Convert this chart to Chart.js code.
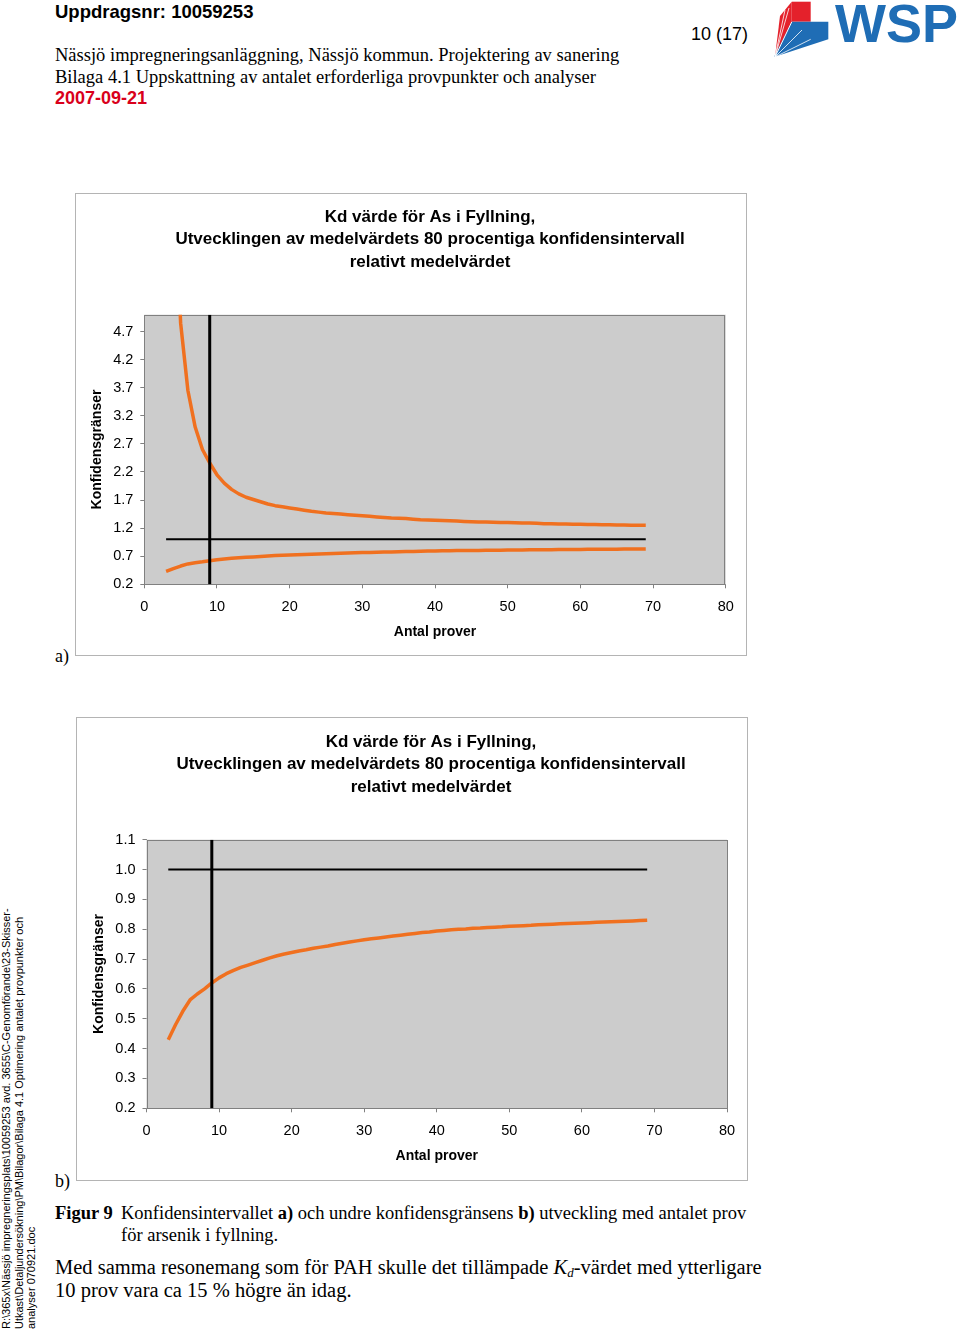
<!DOCTYPE html>
<html><head><meta charset="utf-8">
<script src="https://cdn.jsdelivr.net/npm/chart.js@4.4.1/dist/chart.umd.min.js"></script>
<style>
html,body{margin:0;padding:0;background:#fff;}
body{width:960px;height:1331px;position:relative;overflow:hidden;font-family:'Liberation Sans',Arial,sans-serif;color:#000;}
.abs{position:absolute;white-space:nowrap;}
.serif{font-family:'Liberation Serif','Times New Roman',serif;}
.frame{position:absolute;border:1px solid #b4b4b4;box-sizing:border-box;}
canvas{position:absolute;}
</style></head><body>

<div class="abs" style="left:55px;top:1px;font-size:18.5px;line-height:22px;font-weight:bold;">Uppdragsnr: 10059253</div>
<div class="abs" style="left:691px;top:23px;font-size:18px;line-height:22px;">10 (17)</div>
<div class="abs serif" style="left:55px;top:44px;font-size:18.5px;line-height:22px;">Nässjö impregneringsanläggning, Nässjö kommun. Projektering av sanering<br>Bilaga 4.1 Uppskattning av antalet erforderliga provpunkter och analyser</div>
<div class="abs" style="left:55px;top:87px;font-size:18px;line-height:22px;font-weight:bold;color:#d9001b;">2007-09-21</div>

<svg style="position:absolute;left:0;top:0;" width="960" height="70">
  <polygon points="791.7,1.7 810.7,1.7 810.7,21.7 791.7,21.7" fill="#e4212b"/>
  <polygon points="791.7,1.7 791.7,23 775,57 780,16" fill="#e4212b"/>
  <polygon points="791.7,21.7 828.3,21.7 828.3,39.3 774,57" fill="#1f6db5"/>
  <line x1="775" y1="57" x2="785" y2="10" stroke="#fff" stroke-width="0.8"/>
  <line x1="775" y1="57" x2="789" y2="8" stroke="#fff" stroke-width="0.8"/>
  <line x1="775" y1="57" x2="791.7" y2="22" stroke="#fff" stroke-width="1"/>
  <line x1="775" y1="57" x2="810.7" y2="39.3" stroke="#fff" stroke-width="0.8"/>
  <line x1="775" y1="57" x2="802" y2="30" stroke="#fff" stroke-width="0.8"/>
  <text x="835" y="42" font-family="Liberation Sans, Arial, sans-serif" font-weight="bold" font-size="54" fill="#1f6db5">WSP</text>
</svg>

<div class="frame" style="left:75px;top:193px;width:672px;height:463px;"></div>
<canvas id="chartA" width="690" height="462" style="left:85px;top:193px;"></canvas>
<div class="abs serif" style="left:55px;top:645px;font-size:18px;line-height:22px;">a)</div>

<div class="frame" style="left:76px;top:717px;width:672px;height:464px;"></div>
<canvas id="chartB" width="688" height="463" style="left:87px;top:717px;"></canvas>
<div class="abs serif" style="left:55px;top:1170px;font-size:18px;line-height:22px;">b)</div>

<div class="abs serif" style="left:55px;top:1202px;font-size:18.5px;line-height:22px;font-weight:bold;">Figur 9</div>
<div class="abs serif" style="left:121px;top:1202px;font-size:18.5px;line-height:22px;">Konfidensintervallet <b>a)</b> och undre konfidensgränsens <b>b)</b> utveckling med antalet prov<br>för arsenik i fyllning.</div>

<div class="abs serif" style="left:55px;top:1256px;font-size:20.5px;line-height:23px;">Med samma resonemang som för PAH skulle det tillämpade <i>K<sub style="font-size:13px;line-height:0;vertical-align:-3px;">d</sub></i>-värdet med ytterligare<br>10 prov vara ca 15 % högre än idag.</div>

<div class="abs" style="left:0;top:1331px;transform-origin:0 0;transform:rotate(-90deg);font-size:11px;line-height:12.5px;padding-left:2px;">R:\365x\Nässjö impregneringsplats\10059253 avd. 3655\C-Genomförande\23-Skisser-<br>Utkast\Detaljundersökning\PM\Bilagor\Bilaga 4.1 Optimering antalet provpunkter och<br>analyser 070921.doc</div>

<script>
// ---- data ----
const nProver = [3,4,5,6,7,8,9,10,11,12,13,14,15,16,17,18,19,20,21,22,23,24,25,26,27,28,29,30,31,32,33,34,35,36,37,38,39,40,41,42,43,44,45,46,47,48,49,50,51,52,53,54,55,56,57,58,59,60,61,62,63,64,65,66,67,68,69];
const upperLimit = [
  14.0, 7.8, 4.85, 3.65, 3.0, 2.6, 2.36, 2.15, 2.0, 1.89,
  1.81, 1.75, 1.71, 1.67, 1.63, 1.60, 1.58, 1.56, 1.54, 1.52,
  1.50, 1.485, 1.47, 1.46, 1.45, 1.44, 1.43, 1.42, 1.41, 1.40,
  1.39, 1.38, 1.375, 1.37, 1.36, 1.35, 1.345, 1.34, 1.335, 1.33,
  1.325, 1.32, 1.315, 1.31, 1.31, 1.305, 1.30, 1.30, 1.295, 1.29,
  1.29, 1.285, 1.28, 1.28, 1.275, 1.275, 1.27, 1.27, 1.265, 1.265,
  1.26, 1.26, 1.255, 1.255, 1.25, 1.25, 1.25];
const lowerLimit = [
  0.43, 0.48, 0.525, 0.563, 0.583, 0.60, 0.62, 0.637, 0.651, 0.662,
  0.672, 0.680, 0.688, 0.696, 0.704, 0.711, 0.717, 0.722, 0.727, 0.731,
  0.736, 0.740, 0.744, 0.749, 0.753, 0.757, 0.761, 0.765, 0.768, 0.771,
  0.774, 0.777, 0.780, 0.783, 0.786, 0.789, 0.791, 0.794, 0.796, 0.798,
  0.800, 0.801, 0.803, 0.804, 0.806, 0.807, 0.808, 0.810, 0.811, 0.812,
  0.813, 0.815, 0.816, 0.817, 0.818, 0.819, 0.820, 0.821, 0.822, 0.823,
  0.824, 0.825, 0.826, 0.827, 0.828, 0.829, 0.830];
const refN = 9;
const refLevel = 1.0;
const xTicks = [0,10,20,30,40,50,60,70,80];
const yTicksA = [0.2,0.7,1.2,1.7,2.2,2.7,3.2,3.7,4.2,4.7];
const yTicksB = [0.2,0.3,0.4,0.5,0.6,0.7,0.8,0.9,1.0,1.1];
const yRangeA = [0.2, 5.0];
const yRangeB = [0.2, 1.1];
const xRange = [0, 80];
const titleLines = ['Kd värde för As i Fyllning,', 'Utvecklingen av medelvärdets 80 procentiga konfidensintervall', 'relativt medelvärdet'];
const xTitle = 'Antal prover';
const yTitle = 'Konfidensgränser';

// ---- drawing ----
const SANS = "'Liberation Sans', Arial, sans-serif";
const ORANGE = '#f0701f';

const plotBg = {
  id: 'plotBg',
  beforeDatasetsDraw(chart) {
    const {ctx, chartArea: a} = chart;
    ctx.save();
    ctx.fillStyle = '#cccccc';
    ctx.fillRect(a.left, a.top, a.width, a.height);
    ctx.strokeStyle = '#808080';
    ctx.lineWidth = 1;
    ctx.strokeRect(Math.round(a.left) + 0.5, Math.round(a.top) + 0.5, Math.round(a.width) - 1, Math.round(a.height) - 1);
    ctx.restore();
  }
};

function pts(xs, ys) { return xs.map((x, i) => ({x: x, y: ys[i]})); }

function build(id, yRange, yTicks, cfg) {
  const datasets = [
    {data: [{x: refN, y: yRange[0]}, {x: refN, y: yRange[1]}], borderColor: '#000', borderWidth: 3},
    {data: [{x: nProver[0], y: refLevel}, {x: nProver[nProver.length - 1], y: refLevel}], borderColor: '#000', borderWidth: 2}
  ];
  cfg.series.forEach(s => datasets.push({data: pts(nProver, s), borderColor: ORANGE, borderWidth: 3.5}));
  datasets.forEach(d => { d.pointRadius = 0; d.tension = 0; d.clip = 0; d.borderCapStyle = 'butt'; d.borderJoinStyle = 'round'; d.fill = false; });

  new Chart(document.getElementById(id), {
    type: 'line',
    data: {datasets: datasets},
    plugins: [plotBg],
    options: {
      responsive: false, animation: false, devicePixelRatio: 1,
      layout: {padding: {left: 0, right: 0, top: 0, bottom: cfg.padBottom}},
      plugins: {
        legend: {display: false}, tooltip: {enabled: false},
        title: {display: true, text: titleLines, color: '#000',
          font: {family: SANS, size: 17, weight: 'bold', lineHeight: 22.5 / 17},
          padding: {top: cfg.titleTop, bottom: cfg.titleBottom}}
      },
      scales: {
        x: {
          type: 'linear', min: xRange[0], max: xRange[1],
          afterBuildTicks: s => { s.ticks = xTicks.map(v => ({value: v})); },
          afterFit: s => { s.height = 58.1; },
          grid: {drawOnChartArea: false, drawTicks: true, tickLength: 4, color: '#808080'},
          border: {display: false},
          ticks: {color: '#000', font: {family: SANS, size: 14.5}, padding: 10, maxRotation: 0, autoSkip: false, callback: v => String(v)},
          title: {display: true, text: xTitle, color: '#000', font: {family: SANS, size: 14, weight: 'bold'}, padding: {top: 2, bottom: 2}}
        },
        y: {
          type: 'linear', min: yRange[0], max: yRange[1],
          afterBuildTicks: s => { s.ticks = yTicks.map(v => ({value: v})); },
          afterFit: s => { s.width = cfg.yWidth; },
          grid: {drawOnChartArea: false, drawTicks: true, tickLength: 4, color: '#808080'},
          border: {display: false},
          ticks: {color: '#000', font: {family: SANS, size: 14.5}, padding: 7, callback: v => Number(v).toFixed(1)},
          title: {display: true, text: yTitle, color: '#000', font: {family: SANS, size: 14, weight: 'bold'}, padding: {top: 4, bottom: 4}}
        },
        y2: {
          position: 'right', display: true,
          grid: {display: false}, border: {display: false}, ticks: {display: false},
          afterFit: s => { s.width = cfg.rightWidth; }
        }
      }
    }
  });
}

build('chartA', yRangeA, yTicksA, {series: [upperLimit, lowerLimit], yWidth: 59.3, rightWidth: 49.3, titleTop: 12.75, titleBottom: 41.45, padBottom: 12.6});
build('chartB', yRangeB, yTicksB, {series: [lowerLimit], yWidth: 59.5, rightWidth: 48, titleTop: 13.8, titleBottom: 41.4, padBottom: 13.6});
</script>
</body></html>
